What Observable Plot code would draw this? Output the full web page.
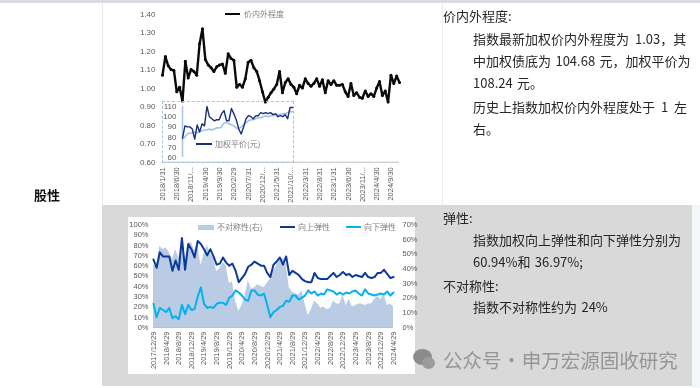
<!DOCTYPE html>
<html><head><meta charset="utf-8">
<script src="https://cdn.jsdelivr.net/npm/d3@7"></script>
<script src="https://cdn.jsdelivr.net/npm/@observablehq/plot@0.6"></script>
<style>
html,body{margin:0;padding:0;background:#fff;}
#root{position:relative;width:700px;height:388px;overflow:hidden;font-family:"Noto Sans CJK SC","Noto Sans",sans-serif;}
.a{position:absolute;}
.t{position:absolute;white-space:nowrap;font-size:13px;line-height:16px;color:#262626;filter:blur(.2px);}
.lg{position:absolute;white-space:nowrap;font-size:8px;line-height:10px;color:#808080;filter:blur(.35px);}
.c{position:absolute;filter:blur(.4px);}
.c svg{display:block;background:transparent;overflow:visible;font-family:"Liberation Sans",Arial,sans-serif;}
</style></head><body><div id="root"></div>
<script>
const premium=[1.07,1.17,1.12,1.10,1.095,0.98,1.005,0.93,1.145,1.055,1.10,1.09,1.07,1.24,1.32,1.155,1.125,1.11,1.09,1.115,1.125,1.13,1.08,1.185,1.16,1.15,1.005,1.02,1.005,1.05,1.14,1.15,1.11,1.09,1.04,0.98,0.925,0.95,0.975,0.995,1.02,1.09,0.975,1.03,1.05,1.02,1.005,0.97,1.015,1.0,1.05,1.025,1.01,1.025,1.05,1.01,1.045,0.975,1.04,1.02,1.04,1.015,1.015,1.02,0.98,0.955,1.025,0.96,0.975,0.95,0.945,0.985,0.955,0.97,0.955,1.0,1.035,0.96,0.985,0.925,1.07,1.025,1.065,1.03];
const premiumTicks=["2018/1/31","2018/6/30","2018/11/...","2019/4/30","2019/9/30","2020/2/29","2020/7/31","2020/12/...","2021/5/31","2021/10/...","2022/3/31","2022/8/31","2023/1/31","2023/6/30","2023/11/...","2024/4/30","2024/9/30"];
const insetDark=[79,91,90,90,88,78,92,85,93,91,110,100,98,96,97,97,103,106,96,96,108,103,97,88,83,90,98,101,100,98,101,101,104,103,104,103,104,102,103,100,101,100,102,98,109,109];
const insetLight=[78,80,83,84,84,85,84,86,86,87,87,88,87,88,89,89,90,94,94,93,92,91,89,88,90,92,94,96,97,97,98,99,99,100,101,100,101,101,102,102,102,103,103,104,105,105];
const asymmetry=[42,42,55,53,54,51,46,53,47,60,45,57,58,52,57,42,50,56,50,47,38,40,44,42,30,31,18,11,15,21,32,26,27,29,28,27,30,33,38,42,46,47,43,27,24,23,22,25,16,8,12,18,16,13,14,12,13,18,16,16,22,15,19,14,15,16,16,15,16,16,19,21,19,23,15,16,14];
const upward=[66,58,73,69,69,69,55,65,56,87,56,81,76,68,84,81,76,70,76,69,61,62,68,63,60,62,55,44,48,52,59,61,64,62,60,60,53,49,61,64,68,61,69,51,55,53,51,47,45,44,44,53,48,47,47,47,50,53,49,51,54,51,52,49,51,50,49,53,49,48,49,53,53,56,52,48,49];
const downward=[23,10,19,17,15,19,9,11,8,22,13,22,17,18,30,39,23,19,20,19,23,24,24,22,29,31,36,34,31,27,26,36,36,32,31,33,22,10,15,17,20,21,26,25,31,31,27,29,31,36,33,35,31,33,32,37,36,35,32,34,32,34,33,35,36,33,31,37,33,32,31,32,33,32,35,31,34];
const elasticityTicks=["2017/12/29","2018/4/29","2018/8/29","2018/12/29","2019/4/29","2019/8/29","2019/12/29","2020/4/29","2020/8/29","2020/12/29","2021/4/29","2021/8/29","2021/12/29","2022/4/29","2022/8/29","2022/12/29","2023/4/29","2023/8/29","2023/12/29","2024/4/29"];
const premiumYTicks=[0.6,0.7,0.8,0.9,1.0,1.1,1.2,1.3,1.4];
const insetYTicks=[60,70,80,90,100,110];
const leftTicks=[0,10,20,30,40,50,60,70,80,90,100];
const rightTicks=[0,10,20,30,40,50,60,70];
const labelColor="#595959";
const idx=a=>a.map((v,i)=>({i,v}));
const root=document.getElementById("root");
function box(css){const d=document.createElement("div");d.className="a";d.style.cssText+=css;root.appendChild(d);return d;}
function text(s,x,cy,css=""){const d=document.createElement("div");d.className="t";d.textContent=s;d.style.left=x+"px";d.style.top=(cy-8)+"px";d.style.cssText+=css;root.appendChild(d);}
function legend(s,x,cy){const d=document.createElement("div");d.className="lg";d.textContent=s;d.style.left=x+"px";d.style.top=(cy-5)+"px";root.appendChild(d);}
function place(p,l,t){const d=document.createElement("div");d.className="c";d.style.left=l+"px";d.style.top=t+"px";d.appendChild(p);root.appendChild(d);}

// table background
box("left:0;top:0;width:700px;height:3px;background:#d9dde3;");
box("left:102px;top:3px;width:1px;height:202px;background:#e8e8e8;");
box("left:442px;top:3px;width:1px;height:202px;background:#ececec;");
box("left:102px;top:205px;width:590px;height:181px;background:#d9d9d9;");
box("left:692px;top:205px;width:8px;height:183px;background:#f3f6fa;");
box("left:128px;top:217px;width:287px;height:157px;background:#fff;");

// premium chart
place(Plot.plot({width:290,height:205,marginLeft:42,marginRight:11,marginTop:13.5,marginBottom:43.3,
  x:{type:"linear",domain:[0,83]},y:{domain:[0.6,1.4]},
  marks:[
    Plot.ruleY([0.6],{stroke:"#bfbfbf"}),
    Plot.axisY({ticks:premiumYTicks,tickSize:0,tickPadding:7,tickFormat:d=>d.toFixed(2),fontSize:8,color:labelColor,label:null}),
    Plot.axisX({ticks:premiumTicks.map((_,i)=>i*5),tickRotate:-90,tickSize:0,tickPadding:5,tickFormat:d=>premiumTicks[d/5],fontSize:7.5,color:labelColor,label:null}),
    Plot.line(idx(premium),{x:"i",y:"v",stroke:"#0a0a0a",strokeWidth:2.4}),
    Plot.dot(idx(premium),{x:"i",y:"v",r:1.5,fill:"#0a0a0a"})
  ]}),120,0);
box("left:225px;top:13px;width:15px;height:2px;background:#0a0a0a;filter:blur(.3px);");
legend("价内外程度",244,14);

// inset
box("left:162px;top:101px;width:130px;height:60px;border:1px dashed #a7c3e6;");
place(Plot.plot({width:131,height:61,marginLeft:20,marginRight:1,marginTop:5,marginBottom:5,
  x:{type:"linear",domain:[0,45],axis:null},y:{domain:[60,110]},
  marks:[
    Plot.ruleX([0],{stroke:"#a7c3e6",strokeWidth:1.5}),
    Plot.axisY({ticks:insetYTicks,tickSize:0,tickPadding:6,fontSize:8,color:labelColor,label:null}),
    Plot.line(idx(insetLight),{x:"i",y:"v",stroke:"#a3c1e8",strokeWidth:1.6}),
    Plot.line(idx(insetDark),{x:"i",y:"v",stroke:"#17307a",strokeWidth:1.4})
  ]}),162,101);
box("left:196px;top:143px;width:16px;height:1.5px;background:#17307a;");
legend("加权平价(元)",215,144);

// elasticity chart: area on its own 0-70 right axis, lines on the 0-100 left axis
const em={width:287,height:157,marginLeft:25,marginRight:22,marginTop:7,marginBottom:47};
place(Plot.plot({...em,x:{type:"linear",domain:[0,76],axis:null},y:{domain:[0,70],axis:null},
  marks:[
    Plot.areaY(idx(asymmetry),{x:"i",y:"v",fill:"#b9cce4"}),
    Plot.axisY({anchor:"right",ticks:rightTicks,tickSize:0,tickPadding:9,tickFormat:d=>d+"%",fontSize:7.5,color:labelColor,label:null})
  ]}),128,217);
place(Plot.plot({...em,x:{type:"linear",domain:[0,76]},y:{domain:[0,100]},
  marks:[
    Plot.ruleY([0],{stroke:"#bfbfbf"}),
    Plot.axisY({ticks:leftTicks,tickSize:0,tickPadding:5,tickFormat:d=>d+"%",fontSize:7.5,color:labelColor,label:null}),
    Plot.axisX({ticks:elasticityTicks.map((_,i)=>i*4),tickRotate:-90,tickSize:0,tickPadding:4,tickFormat:d=>elasticityTicks[d/4],fontSize:7.5,color:labelColor,label:null}),
    Plot.line(idx(upward),{x:"i",y:"v",stroke:"#0c3a9c",strokeWidth:2}),
    Plot.line(idx(downward),{x:"i",y:"v",stroke:"#05b2ee",strokeWidth:2})
  ]}),128,217);
box("left:198px;top:225px;width:16px;height:5px;background:#b9cce4;");
legend("不对称性(右)",217,227);
box("left:280px;top:226px;width:15px;height:2px;background:#0c3a9c;");
legend("向上弹性",298,227);
box("left:346px;top:226px;width:15px;height:2px;background:#05b2ee;");
legend("向下弹性",364,227);

// texts
const sp="word-spacing:3px;";
text("股性",34,195,"font-weight:700;color:#111;");
text("价内外程度:",443,16);
text("指数最新加权价内外程度为 1.03，其",473,39,sp);
text("中加权债底为 104.68 元，加权平价为",473,61,"word-spacing:1.5px;");
text("108.24 元。",473,83,"word-spacing:1.5px;");
text("历史上指数加权价内外程度处于 1 左",473,107,sp);
text("右。",473,129);
text("弹性:",443,218);
text("指数加权向上弹性和向下弹性分别为",473,240);
text("60.94%和 36.97%;",473,262,"word-spacing:1.5px;");
text("不对称性:",443,286);
text("指数不对称性约为 24%",473,307,"word-spacing:1.5px;");
box("left:413px;top:349px;width:19px;height:16px;border-radius:50%;background:#8c8c8c;");
box("left:422px;top:357px;width:13px;height:12px;border-radius:50%;background:#9c9c9c;");
text("公众号 · 申万宏源固收研究",443,360,"font-size:19.5px;line-height:22px;color:#959595;margin-top:-3px;word-spacing:-4px;");
</script></body></html>
